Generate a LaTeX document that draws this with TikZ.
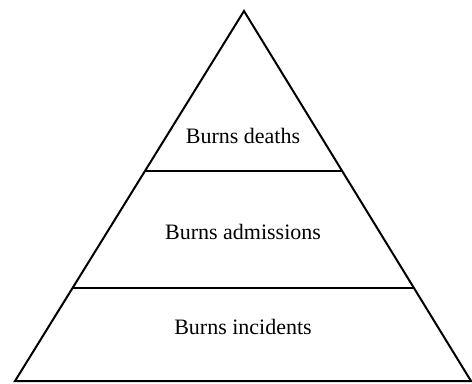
\documentclass[tikz,border=0pt]{standalone}
\usepackage{fontspec}
\setmainfont{Liberation Serif}
\begin{document}
\begin{tikzpicture}[x=0.75pt,y=-0.75pt,
  edge/.style={line width=1.5pt,line join=miter},
  tier/.style={font=\fontsize{16.5}{19}\selectfont,inner sep=0pt}]
\useasboundingbox (0,0) rectangle (472,383);
\coordinate (apex) at (244,11);
\coordinate (bl) at (15,381);
\coordinate (br) at (471,381);
\coordinate (ml) at (145,171);
\coordinate (mr) at (342,171);
\coordinate (ll) at (73,288);
\coordinate (lr) at (414,288);
\draw[edge] (bl) -- (apex) -- (br) -- cycle;
\draw[edge] (ml) -- (mr);
\draw[edge] (ll) -- (lr);
\node[tier] (deaths) at (243,136) {Burns deaths};
\node[tier] (admissions) at (243,232) {Burns admissions};
\node[tier] (incidents) at (243,327) {Burns incidents};
\end{tikzpicture}
\end{document}
